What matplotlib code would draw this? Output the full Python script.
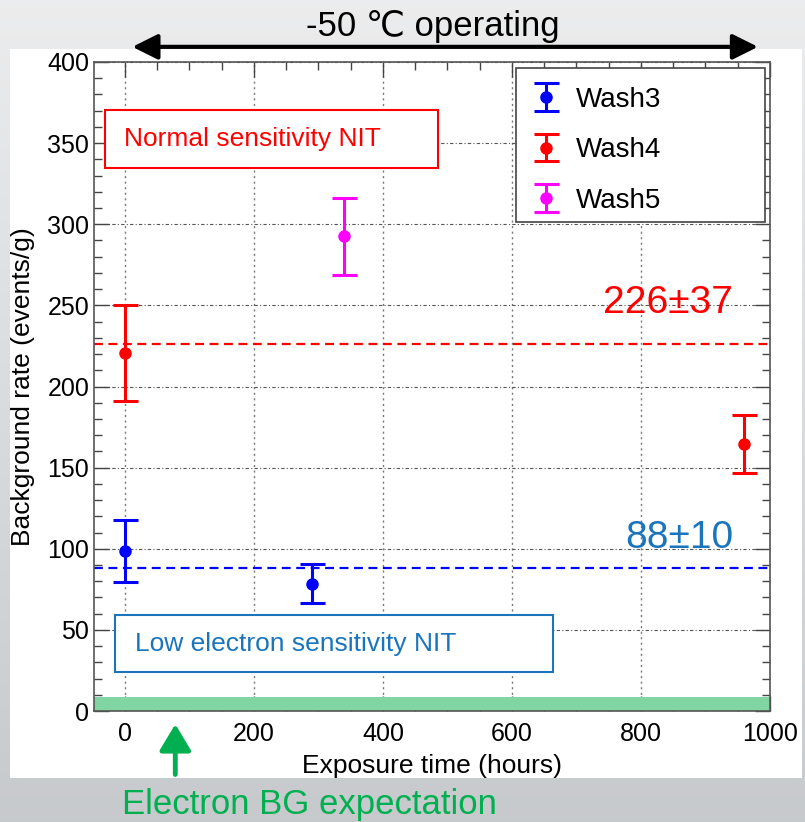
import matplotlib
matplotlib.use("Agg")
import matplotlib.pyplot as plt
from matplotlib.patches import Rectangle, FancyArrowPatch
from matplotlib.ticker import MultipleLocator
import numpy as np

plt.rcParams['font.family'] = ['Liberation Sans', 'DejaVu Sans']

# data
wash3_x = [0, 290]
wash3_y = [98.5, 78.5]
wash3_err = [19, 12]

wash4_x = [0, 960]
wash4_y = [220.5, 164.5]
wash4_err = [29.5, 18]

wash5_x = [340]
wash5_y = [292.5]
wash5_err = [23.5]

mean_wash4 = 226
mean_wash3 = 88
mean_labels = ["226\u00b137", "88\u00b110"]
electron_bg = 8.5

fig = plt.figure(figsize=(8.05, 8.22), dpi=100)

# grey slide background with a white panel
bg = fig.add_axes([0, 0, 1, 1], zorder=-10)
grad = np.linspace(0, 1, 256).reshape(-1, 1)
top_c = np.array([0.925, 0.927, 0.93])
bot_c = np.array([0.78, 0.79, 0.80])
img = top_c[None, None, :] * (1 - grad[:, :, None]) + bot_c[None, None, :] * grad[:, :, None]
bg.imshow(img, aspect='auto', extent=[0, 1, 0, 1], origin='upper')
bg.axis('off')
fig.patches.append(Rectangle((0.0124, 0.0535), 0.9836, 0.887, transform=fig.transFigure,
                             facecolor='white', edgecolor='none', zorder=-5))

ax = fig.add_axes([0.1168, 0.135, 0.8397, 0.7896])
ax.set_facecolor('white')
ax.set_xlim(-48, 1000)
ax.set_ylim(0, 400)

ax.xaxis.set_major_locator(MultipleLocator(200))
ax.xaxis.set_minor_locator(MultipleLocator(50))
ax.yaxis.set_major_locator(MultipleLocator(50))
ax.yaxis.set_minor_locator(MultipleLocator(10))
ax.tick_params(which='both', direction='in', top=True, right=True, labelsize=18, color='#444444')
ax.tick_params(which='major', length=11, width=1)
ax.tick_params(which='minor', length=6, width=1)
ax.tick_params(axis='x', pad=8)
for s in ax.spines.values():
    s.set_color('#555555')
    s.set_linewidth(1.2)

ax.grid(axis='x', which='major', linestyle=(0, (1.5, 2.5)), color='#777777', linewidth=1)
ax.grid(axis='y', which='major', linestyle=(0, (3, 2, 1, 2)), color='#555555', linewidth=0.8)
ax.set_axisbelow(True)

ax.set_xlabel("Exposure time (hours)", fontsize=19, labelpad=6)
ax.set_ylabel("Background rate (events/g)", fontsize=19, labelpad=9)

# electron background band
ax.axhspan(0, electron_bg, facecolor='#80d5a3', edgecolor='none', zorder=1)

# mean lines
ax.axhline(mean_wash4, color='#ff0000', linestyle=(0, (4, 2.5)), linewidth=1.6, zorder=2)
ax.axhline(mean_wash3, color='#0000ff', linestyle=(0, (4, 2.5)), linewidth=1.6, zorder=2)

eb_kw = dict(fmt='o', markersize=8, capsize=9, capthick=2.2, elinewidth=2.2, zorder=5)
ax.errorbar(wash3_x, wash3_y, yerr=wash3_err, color='#0000ff', label='Wash3', **eb_kw)
ax.errorbar(wash4_x, wash4_y, yerr=wash4_err, color='#ff0000', label='Wash4', **eb_kw)
ax.errorbar(wash5_x, wash5_y, yerr=wash5_err, color='#ff00ff', label='Wash5', **eb_kw)

# legend frame drawn by hand, ROOT style
ax.add_patch(Rectangle((0.624, 0.753), 0.369, 0.238, transform=ax.transAxes,
                       facecolor='white', edgecolor='#444444', linewidth=1.2, zorder=9))
leg = ax.legend(loc='upper left', bbox_to_anchor=(0.627, 0.975), fontsize=20, frameon=False,
                borderpad=0.3, labelspacing=0.89, handlelength=1.4, handletextpad=0.4,
                borderaxespad=0)
leg.set_zorder(10)

ax.text(842, 245, mean_labels[0], color='#ff0000', fontsize=28, ha='center', va='baseline', zorder=6)
ax.text(860, 100.5, mean_labels[1], color='#1b75bc', fontsize=28, ha='center', va='baseline', zorder=6)

ax.add_patch(Rectangle((0.016, 0.837), 0.493, 0.089, transform=ax.transAxes,
                       facecolor='white', edgecolor='#ff0000', linewidth=1.5, zorder=8))
ax.text(0.045, 0.8815, "Normal sensitivity NIT", transform=ax.transAxes, color='#ff0000',
        fontsize=19, ha='left', va='center', zorder=9)
ax.add_patch(Rectangle((0.031, 0.060), 0.648, 0.088, transform=ax.transAxes,
                       facecolor='white', edgecolor='#1b75bc', linewidth=1.5, zorder=8))
ax.text(0.061, 0.104, "Low electron sensitivity NIT", transform=ax.transAxes, color='#1b75bc',
        fontsize=19, ha='left', va='center', zorder=9)

# header with arrow
fig.text(0.538, 0.968, "-50 \u2103 operating", fontsize=25, ha='center', va='center')
fig.add_artist(FancyArrowPatch(
    (0.161, 0.943), (0.945, 0.943), transform=fig.transFigure,
    arrowstyle='<|-|>,head_length=1.1,head_width=0.55', mutation_scale=14,
    color='black', linewidth=3))

# electron BG arrow and label
ax.annotate('', xy=(78, -0.016), xycoords=('data', 'axes fraction'),
            xytext=(78, -0.102), textcoords=('data', 'axes fraction'),
            arrowprops=dict(arrowstyle='-|>,head_length=1.0,head_width=0.6', mutation_scale=16,
                            color='#00b050', linewidth=3.5), annotation_clip=False)
fig.text(0.151, 0.021, "Electron BG expectation", color='#00b050', fontsize=25,
         ha='left', va='center')

fig.savefig("out.png", dpi=100)
